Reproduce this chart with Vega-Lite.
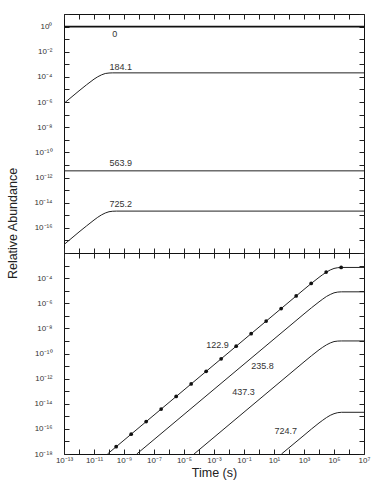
{
  "$schema": "https://vega.github.io/schema/vega-lite/v6.json",
  "background": "white",
  "padding": {"left": 5, "top": 9, "right": 4, "bottom": 2},
  "spacing": 0,
  "bounds": "flush",
  "config": {
    "view": {"stroke": "#111", "strokeWidth": 1},
    "font": "Liberation Sans",
    "axis": {"grid": false, "domain": false, "minExtent": 0, "tickColor": "#222", "tickSize": -5, "labelFontSize": 8, "labelColor": "#333", "labelPadding": 3, "labelOverlap": false, "labelFlush": false, "labelBound": false, "titleFont": "Liberation Sans", "titleFontWeight": "normal", "titleFontSize": 12.5, "titleColor": "#222"},
    "text": {"font": "Liberation Sans", "fontSize": 9, "color": "#333"}
  },
  "datasets": {
    "top": [
      {"s": "0", "t": 1e-13, "a": 1}, {"s": "0", "t": 1e7, "a": 1},
      {"s": "184.1", "t": 1e-13, "a": 7.94e-7}, {"s": "184.1", "t": 1e-12, "a": 7.76e-6}, {"s": "184.1", "t": 3.162e-12, "a": 2.34e-5}, {"s": "184.1", "t": 1e-11, "a": 6.61e-5}, {"s": "184.1", "t": 1.778e-11, "a": 1.02e-4}, {"s": "184.1", "t": 3.162e-11, "a": 1.45e-4}, {"s": "184.1", "t": 5.623e-11, "a": 1.86e-4}, {"s": "184.1", "t": 1e-10, "a": 2.04e-4}, {"s": "184.1", "t": 1.778e-10, "a": 2.09e-4}, {"s": "184.1", "t": 1e7, "a": 2.09e-4},
      {"s": "563.9", "t": 1e-13, "a": 3.39e-12}, {"s": "563.9", "t": 1e7, "a": 3.39e-12},
      {"s": "725.2", "t": 1e-13, "a": 4.68e-18}, {"s": "725.2", "t": 1e-12, "a": 4.68e-17}, {"s": "725.2", "t": 3.162e-12, "a": 1.41e-16}, {"s": "725.2", "t": 1e-11, "a": 4.17e-16}, {"s": "725.2", "t": 1.778e-11, "a": 6.92e-16}, {"s": "725.2", "t": 3.162e-11, "a": 1.07e-15}, {"s": "725.2", "t": 5.623e-11, "a": 1.51e-15}, {"s": "725.2", "t": 1e-10, "a": 1.91e-15}, {"s": "725.2", "t": 1.778e-10, "a": 2.09e-15}, {"s": "725.2", "t": 3.162e-10, "a": 2.14e-15}, {"s": "725.2", "t": 1e7, "a": 2.14e-15}
    ],
    "topLabels": [
      {"s": "0", "t": 2.4e-10, "a": 0.24},
      {"s": "184.1", "t": 6.03e-10, "a": 6.61e-4},
      {"s": "563.9", "t": 6.03e-10, "a": 1.38e-11},
      {"s": "725.2", "t": 6.03e-10, "a": 7.24e-15}
    ],
    "bottom": [
      {"s": "122.9", "t": 7.94e-11, "a": 1e-18}, {"s": "122.9", "t": 1e3, "a": 1.26e-5}, {"s": "122.9", "t": 3.162e3, "a": 3.89e-5}, {"s": "122.9", "t": 1e4, "a": 1.15e-4}, {"s": "122.9", "t": 1.778e4, "a": 1.91e-4}, {"s": "122.9", "t": 3.162e4, "a": 3.02e-4}, {"s": "122.9", "t": 5.623e4, "a": 4.47e-4}, {"s": "122.9", "t": 1e5, "a": 5.89e-4}, {"s": "122.9", "t": 1.778e5, "a": 6.76e-4}, {"s": "122.9", "t": 3.162e5, "a": 7.08e-4}, {"s": "122.9", "t": 1e7, "a": 7.08e-4},
      {"s": "235.8", "t": 7.08e-9, "a": 1e-18}, {"s": "235.8", "t": 1e3, "a": 1.41e-7}, {"s": "235.8", "t": 3.162e3, "a": 4.37e-7}, {"s": "235.8", "t": 1e4, "a": 1.29e-6}, {"s": "235.8", "t": 1.778e4, "a": 2.14e-6}, {"s": "235.8", "t": 3.162e4, "a": 3.47e-6}, {"s": "235.8", "t": 5.623e4, "a": 5.01e-6}, {"s": "235.8", "t": 1e5, "a": 6.76e-6}, {"s": "235.8", "t": 1.778e5, "a": 7.76e-6}, {"s": "235.8", "t": 3.162e5, "a": 8.13e-6}, {"s": "235.8", "t": 1e7, "a": 8.13e-6},
      {"s": "437.3", "t": 4.68e-5, "a": 1e-18}, {"s": "437.3", "t": 1e3, "a": 2.14e-11}, {"s": "437.3", "t": 3.162e3, "a": 6.61e-11}, {"s": "437.3", "t": 1e4, "a": 1.95e-10}, {"s": "437.3", "t": 1.778e4, "a": 3.16e-10}, {"s": "437.3", "t": 3.162e4, "a": 4.9e-10}, {"s": "437.3", "t": 5.623e4, "a": 6.92e-10}, {"s": "437.3", "t": 1e5, "a": 8.91e-10}, {"s": "437.3", "t": 1.778e5, "a": 9.77e-10}, {"s": "437.3", "t": 3.162e5, "a": 1e-9}, {"s": "437.3", "t": 1e7, "a": 1e-9},
      {"s": "724.7", "t": 31.62, "a": 1e-18}, {"s": "724.7", "t": 1e3, "a": 3.09e-17}, {"s": "724.7", "t": 3.162e3, "a": 9.77e-17}, {"s": "724.7", "t": 1e4, "a": 2.95e-16}, {"s": "724.7", "t": 1.778e4, "a": 4.9e-16}, {"s": "724.7", "t": 3.162e4, "a": 7.94e-16}, {"s": "724.7", "t": 5.623e4, "a": 1.2e-15}, {"s": "724.7", "t": 1e5, "a": 1.62e-15}, {"s": "724.7", "t": 1.778e5, "a": 1.95e-15}, {"s": "724.7", "t": 3.162e5, "a": 2.09e-15}, {"s": "724.7", "t": 1e7, "a": 2.09e-15}
    ],
    "dots": [
      {"t": 3e-10, "a": 3.78e-18}, {"t": 3e-9, "a": 3.78e-17}, {"t": 3e-8, "a": 3.78e-16}, {"t": 3e-7, "a": 3.78e-15}, {"t": 3e-6, "a": 3.78e-14}, {"t": 3e-5, "a": 3.78e-13}, {"t": 3e-4, "a": 3.78e-12}, {"t": 3e-3, "a": 3.78e-11}, {"t": 3e-2, "a": 3.78e-10}, {"t": 0.3, "a": 3.78e-9}, {"t": 3, "a": 3.78e-8}, {"t": 30, "a": 3.78e-7}, {"t": 300, "a": 3.78e-6}, {"t": 3000, "a": 3.78e-5}, {"t": 30000, "a": 3.02e-4}, {"t": 300000, "a": 7.08e-4}
    ],
    "bottomLabels": [
      {"s": "122.9", "t": 1.7e-3, "a": 4.6e-10},
      {"s": "235.8", "t": 1.7, "a": 1.05e-11},
      {"s": "437.3", "t": 9.12e-2, "a": 8.91e-14},
      {"s": "724.7", "t": 60.3, "a": 6.31e-17}
    ]
  },
  "vconcat": [
    {
      "width": 300,
      "height": 239,
      "resolve": {"axis": {"x": "independent", "y": "independent"}},
      "layer": [
        {
          "data": {"name": "top"},
          "transform": [{"filter": "datum.s != '0'"}],
          "mark": {"type": "line", "color": "#222", "strokeWidth": 1, "clip": true},
          "encoding": {
            "x": {"field": "t", "type": "quantitative", "scale": {"type": "log", "domain": [1e-13, 1e7]},
              "axis": {"orient": "bottom", "title": null, "labels": false, "values": [1e-13, 1e-12, 1e-11, 1e-10, 1e-9, 1e-8, 1e-7, 1e-6, 1e-5, 1e-4, 1e-3, 1e-2, 1e-1, 1, 10, 100, 1e3, 1e4, 1e5, 1e6, 1e7]}},
            "y": {"field": "a", "type": "quantitative", "scale": {"type": "log", "domain": [1e-18, 10]},
              "axis": {"orient": "left", "title": "Relative Abundance", "titleX": -52, "titleY": 209, "titleBaseline": "middle", "labelPadding": 17,
                "values": [10, 1, 1e-1, 1e-2, 1e-3, 1e-4, 1e-5, 1e-6, 1e-7, 1e-8, 1e-9, 1e-10, 1e-11, 1e-12, 1e-13, 1e-14, 1e-15, 1e-16, 1e-17, 1e-18],
                "labelExpr": "datum.value > 2 ? '' : ['10⁰','','10⁻²','','10⁻⁴','','10⁻⁶','','10⁻⁸','','10⁻¹⁰','','10⁻¹²','','10⁻¹⁴','','10⁻¹⁶','',''][-round(log(datum.value)/LN10)]"}},
            "detail": {"field": "s"}
          }
        },
        {
          "data": {"name": "top"},
          "transform": [{"filter": "datum.s == '0'"}],
          "mark": {"type": "line", "color": "#111", "strokeWidth": 1.8, "clip": true},
          "encoding": {
            "x": {"field": "t", "type": "quantitative", "axis": null},
            "y": {"field": "a", "type": "quantitative", "axis": null}
          }
        },
        {
          "data": {"name": "topLabels"},
          "mark": {"type": "text", "align": "center", "baseline": "middle"},
          "encoding": {
            "x": {"field": "t", "type": "quantitative",
              "axis": {"orient": "top", "title": null, "labels": false, "values": [1e-13, 1e-12, 1e-11, 1e-10, 1e-9, 1e-8, 1e-7, 1e-6, 1e-5, 1e-4, 1e-3, 1e-2, 1e-1, 1, 10, 100, 1e3, 1e4, 1e5, 1e6, 1e7]}},
            "y": {"field": "a", "type": "quantitative",
              "axis": {"orient": "right", "title": null, "labels": false, "values": [10, 1, 1e-1, 1e-2, 1e-3, 1e-4, 1e-5, 1e-6, 1e-7, 1e-8, 1e-9, 1e-10, 1e-11, 1e-12, 1e-13, 1e-14, 1e-15, 1e-16, 1e-17, 1e-18]}},
            "text": {"field": "s"}
          }
        }
      ]
    },
    {
      "width": 300,
      "height": 201,
      "resolve": {"axis": {"x": "independent", "y": "independent"}},
      "layer": [
        {
          "data": {"name": "bottom"},
          "mark": {"type": "line", "color": "#222", "strokeWidth": 1, "clip": true},
          "encoding": {
            "x": {"field": "t", "type": "quantitative", "scale": {"type": "log", "domain": [1e-13, 1e7]},
              "axis": {"orient": "bottom", "title": "Time (s)", "labelPadding": 7, "titlePadding": 2,
                "values": [1e-13, 1e-12, 1e-11, 1e-10, 1e-9, 1e-8, 1e-7, 1e-6, 1e-5, 1e-4, 1e-3, 1e-2, 1e-1, 1, 10, 100, 1e3, 1e4, 1e5, 1e6, 1e7],
                "labelExpr": "['10⁻¹³','','10⁻¹¹','','10⁻⁹','','10⁻⁷','','10⁻⁵','','10⁻³','','10⁻¹','','10¹','','10³','','10⁵','','10⁷'][round(log(datum.value)/LN10)+13]"}},
            "y": {"field": "a", "type": "quantitative", "scale": {"type": "log", "domain": [1e-18, 1e-2]},
              "axis": {"orient": "left", "title": null, "labelPadding": 17,
                "values": [1e-2, 1e-3, 1e-4, 1e-5, 1e-6, 1e-7, 1e-8, 1e-9, 1e-10, 1e-11, 1e-12, 1e-13, 1e-14, 1e-15, 1e-16, 1e-17, 1e-18],
                "labelExpr": "['','','','','10⁻⁴','','10⁻⁶','','10⁻⁸','','10⁻¹⁰','','10⁻¹²','','10⁻¹⁴','','10⁻¹⁶','','10⁻¹⁸'][-round(log(datum.value)/LN10)]"}},
            "detail": {"field": "s"}
          }
        },
        {
          "data": {"name": "dots"},
          "mark": {"type": "point", "filled": true, "color": "#111", "size": 14, "opacity": 1},
          "encoding": {
            "x": {"field": "t", "type": "quantitative", "axis": null},
            "y": {"field": "a", "type": "quantitative", "axis": null}
          }
        },
        {
          "data": {"name": "bottomLabels"},
          "mark": {"type": "text", "align": "center", "baseline": "middle"},
          "encoding": {
            "x": {"field": "t", "type": "quantitative",
              "axis": {"orient": "top", "title": null, "labels": false, "values": [1e-13, 1e-12, 1e-11, 1e-10, 1e-9, 1e-8, 1e-7, 1e-6, 1e-5, 1e-4, 1e-3, 1e-2, 1e-1, 1, 10, 100, 1e3, 1e4, 1e5, 1e6, 1e7]}},
            "y": {"field": "a", "type": "quantitative",
              "axis": {"orient": "right", "title": null, "labels": false, "values": [1e-2, 1e-3, 1e-4, 1e-5, 1e-6, 1e-7, 1e-8, 1e-9, 1e-10, 1e-11, 1e-12, 1e-13, 1e-14, 1e-15, 1e-16, 1e-17, 1e-18]}},
            "text": {"field": "s"}
          }
        }
      ]
    }
  ]
}
